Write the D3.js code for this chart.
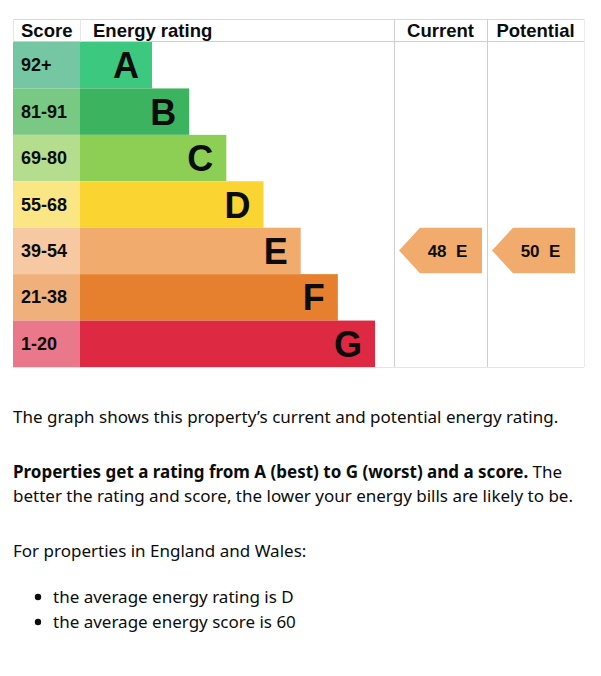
<!DOCTYPE html>
<html>
<head>
<meta charset="utf-8">
<script src="https://cdn.jsdelivr.net/npm/d3@7"></script>
<style>
  body { margin: 0; background: #fff; }
  svg { display: block; }
</style>
</head>
<body>
<div id="chart"></div>
<script>
// bands, best to worst
var bandLetters = ["A", "B", "C", "D", "E", "F", "G"];
var scoreRanges = ["92+", "81-91", "69-80", "55-68", "39-54", "21-38", "1-20"];
var barColors = ["#3cc87f", "#3cb35e", "#8dce55", "#fad532", "#f1ab6d", "#e6802f", "#dd2941"];
var scoreColors = ["#75c7a3", "#79c985", "#b4de8d", "#fbe685", "#f7c9a2", "#f0b07c", "#e8788a"];

// current and potential ratings
var ratingColumns = ["Current", "Potential"];
var ratingScores = [48, 50];
var ratingBands = ["E", "E"];

var width = 601, height = 676;
var left = 13, scoreRight = 80, tableRight = 584;
var headTop = 19, headBottom = 42, tableBottom = 367;
var colEdges = [394, 487, tableRight];

var svg = d3.select("#chart").append("svg")
    .attr("width", width)
    .attr("height", height);

var y = d3.scaleBand()
    .domain(bandLetters)
    .range([headBottom, tableBottom]);

// right edge of each bar grows by one step per band
var barEnd = d3.scaleLinear()
    .domain([0, bandLetters.length - 1])
    .range([152, 375]);

var colX = d3.scaleOrdinal()
    .domain(ratingColumns)
    .range(colEdges.slice(0, 2));
var colW = d => colEdges[ratingColumns.indexOf(d) + 1] - colX(d);
var arrowW = 83;

var headFont = "'Liberation Sans', Arial, sans-serif";

// grid lines
var grid = svg.append("g").attr("stroke", "#d8d8d8").attr("stroke-width", 1);
grid.append("line").attr("x1", left).attr("x2", tableRight).attr("y1", headTop + 0.5).attr("y2", headTop + 0.5);
grid.append("line").attr("x1", left).attr("x2", tableRight).attr("y1", headBottom - 0.5).attr("y2", headBottom - 0.5).attr("stroke", "#cfcfcf");
grid.append("line").attr("x1", left).attr("x2", tableRight).attr("y1", tableBottom + 0.5).attr("y2", tableBottom + 0.5).attr("stroke", "#e4e4e4");
grid.append("line").attr("x1", left + 0.5).attr("x2", left + 0.5).attr("y1", headTop).attr("y2", headBottom).attr("stroke", "#e6e6e6");
grid.append("line").attr("x1", scoreRight + 0.5).attr("x2", scoreRight + 0.5).attr("y1", headTop).attr("y2", headBottom).attr("stroke", "#e6e6e6");
colEdges.forEach(function(cx, i) {
    grid.append("line")
        .attr("x1", cx + 0.5).attr("x2", cx + 0.5)
        .attr("y1", headTop).attr("y2", tableBottom)
        .attr("stroke", i == 2 ? "#ececec" : "#cfcfcf");
});

// header
var head = svg.append("g")
    .attr("font-family", headFont)
    .attr("font-weight", "bold")
    .attr("font-size", "18.5px")
    .attr("fill", "#0b0c0c");
head.append("text").attr("x", 21).attr("y", 37).text("Score");
head.append("text").attr("x", 93).attr("y", 37).text("Energy rating");
head.selectAll(".colhead")
    .data(ratingColumns)
    .enter()
    .append("text")
    .attr("class", "colhead")
    .attr("x", d => colX(d) + colW(d) / 2)
    .attr("y", 37)
    .attr("text-anchor", "middle")
    .text(d => d);

// rows
var rows = svg.selectAll(".band")
    .data(bandLetters)
    .enter()
    .append("g")
    .attr("class", "band");

rows.append("rect")
    .attr("x", left)
    .attr("y", d => y(d))
    .attr("width", scoreRight - left)
    .attr("height", y.bandwidth())
    .attr("fill", (d, i) => scoreColors[i]);

rows.append("rect")
    .attr("x", scoreRight)
    .attr("y", d => y(d))
    .attr("width", (d, i) => barEnd(i) - scoreRight)
    .attr("height", y.bandwidth())
    .attr("fill", (d, i) => barColors[i]);

rows.append("text")
    .attr("x", 21)
    .attr("y", d => y(d) + y.bandwidth() / 2 + 6)
    .attr("font-family", headFont)
    .attr("font-weight", "bold")
    .attr("font-size", "18px")
    .attr("fill", "#0b0c0c")
    .text((d, i) => scoreRanges[i]);

rows.append("text")
    .attr("x", (d, i) => barEnd(i) - 13)
    .attr("y", d => y(d) + y.bandwidth() / 2 + 13)
    .attr("text-anchor", "end")
    .attr("font-family", headFont)
    .attr("font-weight", "bold")
    .attr("font-size", "36px")
    .attr("fill", "#0b0c0c")
    .text(d => d);

// rating arrows
var arrows = svg.selectAll(".rating")
    .data(ratingColumns)
    .enter()
    .append("g")
    .attr("class", "rating");

arrows.append("path")
    .attr("d", function(d, i) {
        var band = ratingBands[i];
        var x0 = colX(d) + 5, x1 = x0 + arrowW;
        var y0 = y(band), y1 = y(band) + y.bandwidth() - 1;
        var ym = (y0 + y1) / 2, notch = x0 + 21;
        return "M" + x0 + "," + ym + "L" + notch + "," + y0 + "L" + x1 + "," + y0 +
            "L" + x1 + "," + y1 + "L" + notch + "," + y1 + "Z";
    })
    .attr("fill", (d, i) => barColors[bandLetters.indexOf(ratingBands[i])]);

arrows.append("text")
    .attr("x", d => colX(d) + 5 + arrowW / 2 + 7)
    .attr("y", (d, i) => y(ratingBands[i]) + y.bandwidth() / 2 + 6)
    .attr("text-anchor", "middle")
    .attr("font-family", headFont)
    .attr("font-weight", "bold")
    .attr("font-size", "17px")
    .attr("fill", "#0b0c0c")
    .attr("xml:space", "preserve")
    .text((d, i) => ratingScores[i] + "  " + ratingBands[i]);

// description text
var bodyFont = "'Noto Sans', 'Open Sans', sans-serif";
var body = svg.append("g")
    .attr("font-family", bodyFont)
    .attr("font-size", "17px")
    .attr("fill", "#0b0c0c");

body.append("text").attr("x", 13).attr("y", 423)
    .text("The graph shows this property\u2019s current and potential energy rating.");

var p2 = body.append("text").attr("x", 13).attr("y", 478);
p2.append("tspan").attr("font-weight", "bold").text("Properties get a rating from A (best) to G (worst) and a score.");
p2.append("tspan").text(" The");
body.append("text").attr("x", 13).attr("y", 502)
    .text("better the rating and score, the lower your energy bills are likely to be.");

body.append("text").attr("x", 13).attr("y", 557)
    .text("For properties in England and Wales:");

var bullets = ["the average energy rating is D", "the average energy score is 60"];
bullets.forEach(function(t, i) {
    body.append("circle").attr("cx", 38).attr("cy", 597 + i * 25).attr("r", 3.2).attr("fill", "#0b0c0c");
    body.append("text").attr("x", 53).attr("y", 603 + i * 25).text(t);
});
</script>
</body>
</html>
